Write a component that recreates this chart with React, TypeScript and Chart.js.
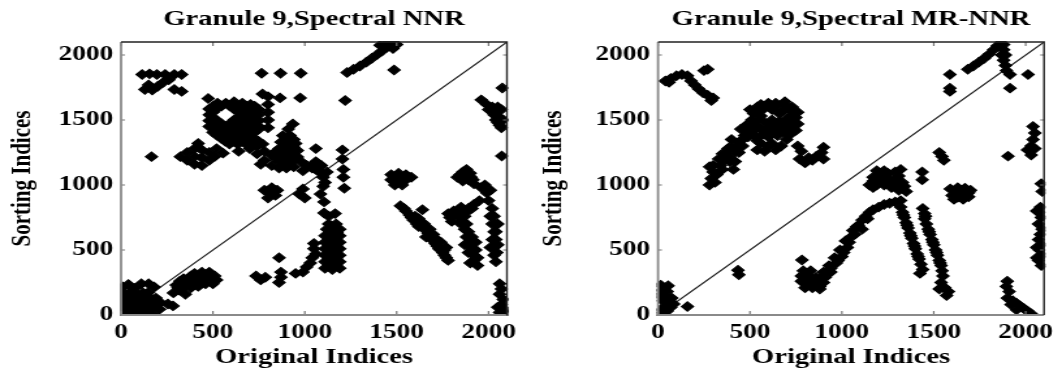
import React, { useEffect, useRef } from 'react';
import { Chart, registerables } from 'chart.js';

Chart.register(...registerables);

const panelTitles = ['Granule 9,Spectral NNR', 'Granule 9,Spectral MR-NNR'];
const xAxisTitle = 'Original Indices';
const yAxisTitle = 'Sorting Indices';
const tickValues = [0, 500, 1000, 1500, 2000];
const axisMin = 0;
const axisMax = 2100;
const diagonalLine = [0, 2100];

// Left panel: Spectral NNR (x = original index, y = sorting index)
const nnrPoints: number[][] = [
  [10, 10], [50, 10], [90, 10], [130, 10], [170, 10],
  [10, 50], [50, 50], [90, 50], [130, 50], [170, 50], [210, 45],
  [10, 90], [50, 90], [90, 90], [130, 90], [170, 90], [215, 95], [255, 85], [283, 70],
  [10, 130], [50, 130], [90, 130], [130, 125], [165, 125],
  [10, 170], [45, 170], [85, 165], [120, 170], [150, 175],
  [10, 215], [40, 235], [75, 205], [110, 240], [150, 240], [180, 215],
  [30, 30], [70, 30], [110, 30], [150, 30], [30, 70], [70, 70], [110, 70], [150, 70], [30, 110], [70, 110],
  [110, 110], [150, 110], [30, 150], [70, 150], [110, 150], [190, 130], [190, 70],
  [285, 170], [300, 230], [320, 190], [340, 240], [350, 160], [360, 270], [380, 210], [400, 260],
  [420, 300], [440, 250], [460, 290], [480, 330], [500, 280], [340, 280], [380, 300], [420, 220],
  [460, 240], [500, 240], [520, 270], [440, 330], [400, 320], [320, 260],
  [310, 210], [330, 215], [370, 245], [390, 285], [410, 240], [430, 275], [450, 270], [470, 310], [490, 300],
  [360, 230], [510, 300],
  [735, 300], [760, 270], [785, 290],
  [860, 440], [870, 330], [870, 290], [860, 250],
  [950, 320], [990, 330], [1010, 370], [1030, 400], [1040, 440], [1060, 470], [1050, 510], [1050, 550],
  [1110, 360], [1150, 350], [1190, 360], [1110, 410], [1150, 400], [1190, 410], [1110, 460], [1150, 450],
  [1190, 460], [1110, 510], [1150, 500], [1190, 510], [1110, 560], [1150, 550], [1190, 560], [1110, 610],
  [1150, 600], [1190, 610], [1120, 660], [1160, 650], [1190, 660], [1130, 700], [1170, 700], [1130, 760],
  [1165, 780], [1105, 785], [1105, 870], [1085, 930], [1100, 990],
  [1130, 385], [1170, 385], [1130, 435], [1170, 435], [1130, 485], [1170, 485], [1130, 535], [1170, 535],
  [1130, 585], [1170, 585], [1140, 635], [1175, 635], [1150, 680],
  [1040, 1150], [1060, 1120], [1080, 1100], [1100, 1060], [1110, 1020], [1090, 1150], [1120, 1100],
  [1060, 1180], [1060, 1280],
  [860, 1130], [900, 1130], [940, 1140], [860, 1180], [900, 1180], [940, 1190], [860, 1230], [900, 1230],
  [940, 1240], [860, 1280], [900, 1280], [940, 1290], [870, 1330], [910, 1330], [950, 1320], [880, 1380],
  [920, 1380], [910, 1430], [935, 1470], [980, 1180], [1010, 1150], [1040, 1130], [1070, 1120], [990, 1110],
  [880, 1155], [920, 1155], [880, 1205], [920, 1205], [880, 1255], [920, 1255], [890, 1305], [930, 1305],
  [900, 1355], [940, 1350], [960, 1215], [960, 1265], [840, 1205], [840, 1255],
  [990, 970], [1000, 900], [970, 930],
  [780, 960], [810, 940], [840, 920], [800, 900], [850, 960], [820, 980],
  [1215, 975], [1210, 1060], [1210, 1120], [1205, 1200], [1205, 1270], [1220, 1650],
  [1230, 1865], [1265, 1890], [1300, 1915], [1335, 1945], [1365, 1975], [1395, 2005], [1420, 2030],
  [1445, 2060], [1470, 2085], [1500, 2080], [1480, 2050], [1410, 2075], [1450, 2095], [1486, 1885],
  [115, 1850], [155, 1855], [195, 1850], [240, 1850], [290, 1850], [330, 1850], [130, 1735], [170, 1730],
  [200, 1760], [230, 1790], [260, 1810], [290, 1735], [330, 1720], [150, 1770],
  [166, 1218], [323, 1218], [360, 1190], [360, 1250], [400, 1160], [400, 1220], [400, 1280], [440, 1150],
  [440, 1210], [440, 1270], [480, 1190], [480, 1250], [510, 1220], [520, 1280], [420, 1320],
  [474, 1665],
  [525, 1630], [570, 1630], [615, 1640], [660, 1630], [705, 1620],
  [480, 1585], [525, 1590], [615, 1585], [660, 1585], [705, 1585], [750, 1580],
  [480, 1540], [660, 1540], [705, 1540], [750, 1540],
  [480, 1495], [525, 1495], [615, 1500], [660, 1495], [705, 1495], [750, 1495],
  [480, 1450], [525, 1450], [570, 1450], [615, 1450], [660, 1450], [705, 1450], [750, 1450],
  [500, 1405], [545, 1405], [590, 1405], [635, 1405], [680, 1405], [725, 1405],
  [545, 1360], [590, 1360], [635, 1360], [680, 1360], [725, 1360],
  [590, 1315], [635, 1315], [680, 1315], [725, 1315], [770, 1315],
  [502, 1607], [547, 1607], [592, 1607], [637, 1607], [682, 1607], [727, 1607],
  [502, 1562], [637, 1562], [682, 1562], [727, 1562],
  [502, 1517], [637, 1517], [682, 1517], [727, 1517],
  [502, 1472], [547, 1472], [592, 1472], [637, 1472], [682, 1472], [727, 1472],
  [522, 1427], [567, 1427], [612, 1427], [657, 1427], [702, 1427], [747, 1427],
  [522, 1382], [567, 1382], [612, 1382], [657, 1382], [702, 1382],
  [567, 1337], [612, 1337], [657, 1337], [702, 1337], [747, 1337],
  [555, 1245], [640, 1260], [700, 1280], [740, 1300], [780, 1260], [820, 1230], [740, 1240], [780, 1190],
  [820, 1150], [760, 1160], [700, 1330],
  [770, 1700], [800, 1680], [800, 1620], [800, 1560], [800, 1500], [800, 1440],
  [765, 1860], [868, 1860], [978, 1860], [865, 1670], [975, 1670],
  [1470, 1080], [1510, 1090], [1550, 1080], [1470, 1040], [1510, 1040], [1550, 1040], [1490, 1000],
  [1530, 1000], [1580, 1060], [1490, 1060], [1530, 1060], [1490, 1020], [1530, 1020],
  [1520, 840], [1550, 800], [1570, 770], [1590, 730], [1610, 700], [1620, 740], [1640, 690], [1660, 650],
  [1680, 610], [1700, 570], [1720, 530], [1740, 500], [1760, 460], [1780, 420], [1700, 620], [1740, 560],
  [1770, 520], [1640, 810],
  [1540, 820], [1580, 750], [1600, 760], [1630, 720], [1650, 700], [1670, 630], [1690, 590], [1710, 550],
  [1730, 510], [1750, 480], [1770, 440], [1720, 580], [1680, 660], [1660, 600], [1620, 680], [1760, 500],
  [1800, 720], [1830, 760], [1860, 790], [1890, 820], [1920, 850], [1950, 880], [1810, 800], [1850, 830],
  [1780, 780],
  [1790, 750], [1820, 790], [1850, 760], [1880, 790], [1910, 820], [1870, 760], [1850, 700], [1880, 700],
  [1860, 720], [1870, 660], [1880, 600], [1890, 540], [1900, 480], [1920, 420], [1940, 380], [1910, 600],
  [1930, 500],
  [1890, 640], [1900, 580], [1910, 520], [1920, 460], [1940, 440], [1870, 540], [1890, 480], [1930, 560],
  [1900, 400],
  [1830, 1060], [1860, 1100], [1890, 1040], [1920, 1010], [1860, 1030], [1900, 1090],
  [1845, 1080], [1875, 1070], [1905, 1060], [1880, 1120], [1915, 1040],
  [1980, 1000], [1990, 940], [2000, 880], [2020, 820], [2030, 760], [2035, 700], [2040, 640], [2040, 580],
  [2030, 520], [2030, 460], [2040, 410],
  [1960, 980], [2010, 960], [2010, 760], [2020, 700], [2030, 640], [2020, 580], [2010, 520], [2045, 480],
  [2050, 540], [2050, 700],
  [1960, 1655], [1990, 1620], [2020, 1600], [2040, 1560], [2060, 1520], [2050, 1480], [2070, 1440],
  [2030, 1540], [2070, 1580], [2075, 1746], [2072, 1223],
  [2000, 1580], [2050, 1600], [2060, 1460], [2080, 1500], [2040, 1500],
  [2060, 240], [2070, 200], [2060, 160], [2080, 120], [2070, 80], [2090, 40], [2100, 10], [2050, 60], [2060, 20],
];

// Right panel: Spectral MR-NNR
const mrNnrPoints: number[][] = [
  [15, 230], [55, 225], [20, 190], [50, 180], [10, 150], [45, 140], [75, 130], [25, 110], [60, 100],
  [85, 85], [40, 70], [70, 60], [20, 40], [50, 30], [10, 5], [160, 65],
  [435, 345], [440, 310],
  [780, 300], [820, 300], [860, 290], [780, 260], [820, 250], [860, 240], [900, 250], [800, 210],
  [840, 210], [880, 200], [910, 290], [900, 330], [940, 330], [930, 380], [970, 400], [960, 440],
  [1000, 450], [990, 500], [1030, 520], [1020, 570], [1050, 600], [1060, 650], [1080, 680], [783, 423],
  [790, 340], [830, 340],
  [880, 240], [840, 260], [800, 280], [940, 360], [980, 420], [1010, 480], [1040, 560], [1070, 620],
  [800, 240], [840, 235], [820, 275], [860, 265], [880, 220], [900, 300],
  [1090, 690], [1110, 730], [1130, 760], [1150, 790], [1170, 810], [1200, 830], [1230, 850], [1260, 860],
  [1290, 870], [1320, 880], [1110, 660], [1140, 740],
  [1320, 830], [1330, 790], [1340, 750], [1350, 710], [1360, 670], [1370, 630], [1380, 590], [1390, 550],
  [1400, 510], [1410, 470], [1420, 430], [1430, 390], [1440, 350], [1425, 320],
  [1335, 770], [1355, 690], [1375, 610], [1395, 530], [1415, 450],
  [1440, 820], [1450, 780], [1450, 740], [1460, 700], [1470, 660], [1480, 620], [1490, 580], [1500, 540],
  [1510, 500], [1520, 460], [1530, 420], [1540, 380], [1545, 340], [1550, 300], [1540, 250], [1560, 210],
  [1580, 180], [1530, 200], [1570, 150],
  [1455, 760], [1475, 640], [1495, 560], [1515, 480], [1535, 400],
  [1150, 1000], [1190, 1000], [1230, 1000], [1270, 980], [1310, 960], [1350, 950], [1170, 1060],
  [1210, 1060], [1250, 1060], [1290, 1040], [1330, 1020], [1190, 1110], [1230, 1110], [1290, 1100],
  [1320, 1120], [1270, 1020], [1340, 990],
  [1170, 1030], [1210, 1030], [1250, 1030], [1210, 1090], [1250, 1090], [1310, 1070], [1170, 980], [1300, 1000],
  [1437, 1040], [1437, 1100],
  [1530, 1250], [1545, 1220], [1555, 1190],
  [1590, 970], [1630, 980], [1670, 975], [1700, 960], [1600, 920], [1640, 920], [1690, 910], [1610, 890],
  [1660, 890], [1620, 950], [1655, 950], [1690, 940], [1630, 905],
  [1588, 1850], [1588, 1745], [1588, 1720],
  [1685, 1890], [1715, 1915], [1745, 1945], [1775, 1975], [1800, 2005], [1825, 2040], [1845, 2070],
  [1865, 2095], [1880, 2080], [1880, 2040], [1890, 2000], [1880, 1960], [1890, 1920], [1895, 1880],
  [1870, 2000],
  [1915, 1850], [1915, 1745], [2013, 1850],
  [2040, 1450], [2050, 1400], [2040, 1350], [2030, 1300], [2050, 1280], [2010, 1270], [2030, 1230],
  [1904, 1222],
  [2085, 1010], [2090, 950], [2080, 830], [2075, 790], [2085, 750], [2070, 700], [2090, 660], [2080, 620],
  [2070, 580], [2085, 540], [2075, 500], [2090, 460], [2070, 420], [2085, 380], [2060, 440], [2060, 520],
  [2060, 800],
  [1900, 260], [1895, 220], [1910, 180], [1900, 130], [1930, 110], [1950, 90], [1970, 70], [1990, 50],
  [2010, 30], [2030, 10], [1920, 80], [1950, 40],
  [40, 1800], [70, 1820], [100, 1840], [130, 1850], [160, 1840], [60, 1790], [180, 1800], [200, 1770],
  [220, 1740], [245, 1710], [270, 1690], [300, 1670], [290, 1650], [250, 1880], [270, 1890],
  [280, 1000], [290, 1050], [300, 1100], [280, 1140], [320, 1080], [340, 1150], [330, 1200], [360, 1190],
  [370, 1240], [380, 1280], [400, 1300], [390, 1220], [420, 1260], [420, 1180], [410, 1120], [440, 1330],
  [460, 1300], [470, 1380], [450, 1430], [480, 1460], [500, 1420], [510, 1500], [520, 1550], [540, 1600],
  [500, 1580], [560, 1620], [600, 1630], [640, 1630], [680, 1620], [710, 1600], [730, 1560], [750, 1520],
  [740, 1480], [720, 1440], [750, 1420], [700, 1510], [660, 1550], [620, 1580], [560, 1570], [540, 1500],
  [580, 1480], [620, 1500], [660, 1490], [700, 1460], [550, 1440], [600, 1430], [640, 1440], [690, 1400],
  [520, 1380], [560, 1380], [600, 1370], [650, 1380], [700, 1350], [560, 1320], [620, 1320], [670, 1300],
  [580, 1260], [640, 1270], [540, 1270],
  [640, 1600], [680, 1570], [720, 1520], [580, 1600], [620, 1460], [660, 1420], [700, 1430], [580, 1420],
  [540, 1340], [600, 1300], [520, 1460], [560, 1530], [610, 1400], [680, 1460], [720, 1390], [490, 1370],
  [350, 1240], [440, 1250], [400, 1350],
  [690, 1640], [730, 1600], [760, 1560], [760, 1470], [520, 1420], [480, 1410], [460, 1350], [430, 1290],
  [390, 1180], [350, 1120], [310, 1020], [300, 1150],
  [760, 1300], [780, 1260], [770, 1200], [800, 1170], [820, 1210], [860, 1220], [900, 1200], [890, 1250],
  [900, 1290], [840, 1190],
];

const FONT_FAMILY = "'Liberation Serif', 'DejaVu Serif', serif";
const INTERNAL_W = 408;
const DISPLAY_W = 531;
const H = 381;

const framePlugin = {
  id: 'frameTicks',
  afterDatasetsDraw(chart: any) {
    const { ctx, chartArea } = chart;
    const { left, right, top, bottom } = chartArea;
    const xs = chart.scales.x;
    const ys = chart.scales.y;
    ctx.save();
    ctx.strokeStyle = '#777';
    ctx.lineWidth = 1.2;
    const lenV = 4;
    const lenH = 3;
    ctx.beginPath();
    tickValues.forEach((v) => {
      const px = xs.getPixelForValue(v);
      const py = ys.getPixelForValue(v);
      ctx.moveTo(px, bottom); ctx.lineTo(px, bottom - lenV);
      ctx.moveTo(px, top); ctx.lineTo(px, top + lenV);
      ctx.moveTo(left, py); ctx.lineTo(left + lenH, py);
      ctx.moveTo(right, py); ctx.lineTo(right - lenH, py);
    });
    ctx.stroke();
    ctx.lineWidth = 1.8;
    ctx.strokeStyle = '#8a8a8a';
    ctx.beginPath();
    ctx.moveTo(left, top); ctx.lineTo(left, bottom); ctx.lineTo(right, bottom);
    ctx.stroke();
    ctx.lineWidth = 1.4;
    ctx.strokeStyle = '#222';
    ctx.beginPath();
    ctx.moveTo(left, top); ctx.lineTo(right, top); ctx.lineTo(right, bottom);
    ctx.stroke();
    ctx.restore();
  },
};

function Panel({ title, points, yAxisWidth, padRight }: { title: string; points: number[][]; yAxisWidth: number; padRight: number }) {
  const ref = useRef<HTMLCanvasElement | null>(null);
  useEffect(() => {
    if (!ref.current) return;
    const font = (size: number) => ({ family: FONT_FAMILY, size, weight: 'bold' as const });
    const chart = new Chart(ref.current, {
      type: 'scatter',
      data: {
        datasets: [
          {
            type: 'scatter',
            data: points.map(([x, y]) => ({ x, y })),
            pointStyle: 'rectRot',
            pointRadius: 4.6,
            pointBackgroundColor: '#000',
            pointBorderColor: '#000',
            pointBorderWidth: 1.2,
            clip: 1,
          } as any,
          {
            type: 'line',
            data: diagonalLine.map((v) => ({ x: v, y: v })),
            borderColor: '#1a1a1a',
            borderWidth: 1.1,
            pointRadius: 0,
            fill: false,
          } as any,
        ],
      },
      options: {
        animation: false,
        responsive: false,
        devicePixelRatio: 1,
        events: [],
        layout: { padding: { left: 0, right: padRight, top: 0, bottom: 0 } },
        plugins: {
          legend: { display: false },
          tooltip: { enabled: false },
          title: {
            display: true,
            text: title,
            fullSize: false,
            color: '#000',
            font: font(22),
            padding: { top: 6, bottom: 9.6 },
          },
        },
        scales: {
          x: {
            type: 'linear',
            min: axisMin,
            max: axisMax,
            afterFit: (s: any) => { s.height = 66; },
            afterBuildTicks: (s: any) => { s.ticks = tickValues.map((v) => ({ value: v })); },
            grid: { display: false, drawTicks: false },
            border: { display: false },
            ticks: {
              color: '#000', font: font(21), padding: 5, maxRotation: 0, autoSkip: false, includeBounds: false,
              callback: (v: any) => String(v),
            },
            title: { display: true, text: xAxisTitle, color: '#000', font: font(22), padding: { top: 0, bottom: 10 } },
          },
          y: {
            type: 'linear',
            min: axisMin,
            max: axisMax,
            afterFit: (s: any) => { s.width = yAxisWidth; },
            afterBuildTicks: (s: any) => { s.ticks = tickValues.map((v) => ({ value: v })); },
            grid: { display: false, drawTicks: false },
            border: { display: false },
            ticks: {
              color: '#000', font: font(21), padding: 6, autoSkip: false, includeBounds: false,
              callback: (v: any) => String(v),
            },
            title: { display: true, text: yAxisTitle, color: '#000', font: font(21), padding: { top: 4.5, bottom: 0 } },
          },
        },
      } as any,
      plugins: [framePlugin],
    });
    return () => chart.destroy();
  }, [title, points, yAxisWidth, padRight]);
  return (
    <canvas
      ref={ref}
      width={INTERNAL_W}
      height={H}
      style={{ width: DISPLAY_W + 'px', height: H + 'px', display: 'block' }}
    />
  );
}

export default function App() {
  return (
    <div style={{ position: 'absolute', left: 0, top: 0, width: 1062, height: H, display: 'flex', background: '#fff' }}>
      <Panel title={panelTitles[0]} points={nnrPoints} yAxisWidth={93} padRight={18.5} />
      <Panel title={panelTitles[1]} points={mrNnrPoints} yAxisWidth={97.6} padRight={13.8} />
    </div>
  );
}
